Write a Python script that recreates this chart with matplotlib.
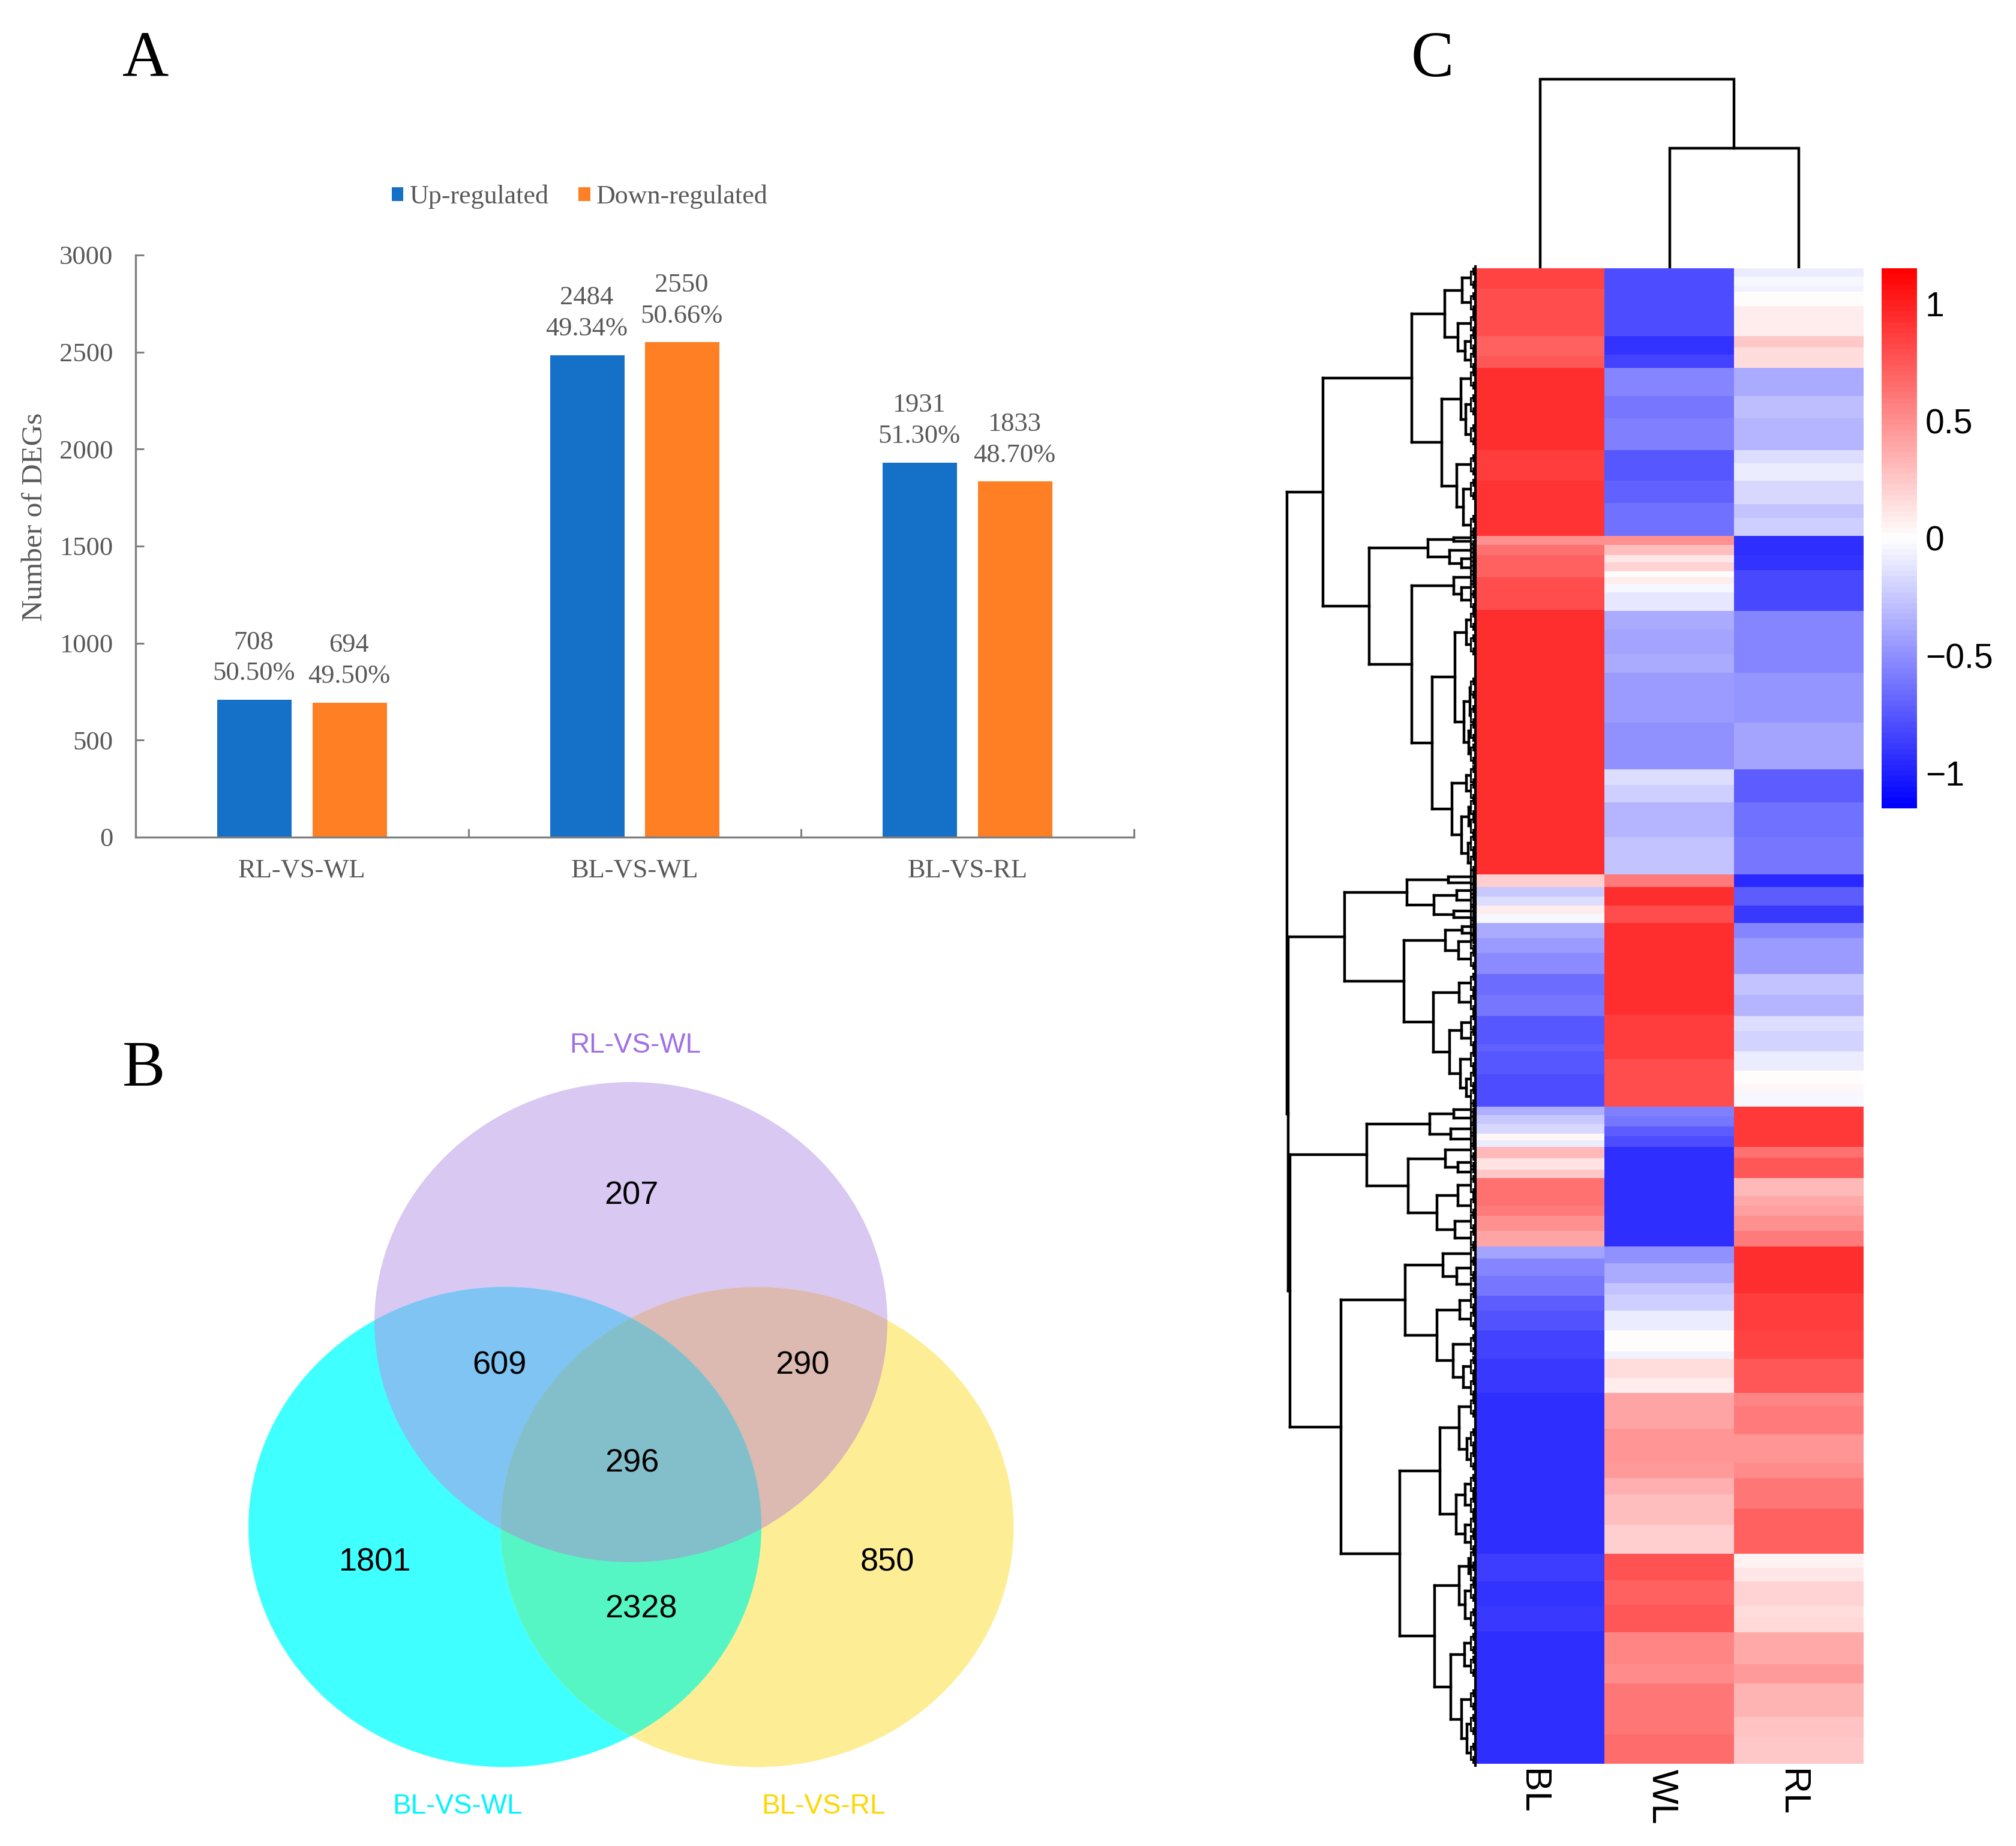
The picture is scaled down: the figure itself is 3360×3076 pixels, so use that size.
import numpy as np
import matplotlib
matplotlib.use('Agg')
import matplotlib.pyplot as plt
from matplotlib.colors import LinearSegmentedColormap
from matplotlib.patches import Ellipse, Polygon

W, H = 3360, 3076
SERIF = 'Liberation Serif'
SANS = 'Liberation Sans'
GREY = '#595959'

# panel A
groups = ['RL-VS-WL', 'BL-VS-WL', 'BL-VS-RL']
up = [708, 2484, 1931]
down = [694, 2550, 1833]
up_pct = ['50.50%', '49.34%', '51.30%']
down_pct = ['49.50%', '50.66%', '48.70%']

# panel B, numbers per region
venn_names = ['RL-VS-WL', 'BL-VS-WL', 'BL-VS-RL']
venn_counts = ['207', '609', '290', '296', '1801', '850', '2328']

# panel C, bands per column: (row where the band ends, value)
samples = ['BL', 'WL', 'RL']
bl_bands = [(34, .84), (113, .79), (146, .69), (166, .74), (303, .92), (354, .87), (446, .9), (461, .5), (478, .64),
            (515, .71), (569, .8), (1010, .92), (1031, .21), (1047, -.25), (1062, -.16), (1076, .09), (1091, -.03),
            (1116, -.37), (1141, -.45), (1176, -.51), (1211, -.66), (1246, -.6), (1293, -.74), (1305, -.7),
            (1343, -.75), (1397, -.8), (1411, -.35), (1426, -.25), (1442, -.18), (1453, .03), (1464, -.07),
            (1483, .32), (1502, .12), (1516, .23), (1562, .64), (1579, .58), (1604, .5), (1630, .41), (1650, -.41),
            (1679, -.55), (1712, -.62), (1737, -.72), (1770, -.77), (1817, -.84), (1874, -.88), (2142, -.93),
            (2188, -.86), (2229, -.91), (2271, -.88), (2492, -.93)]
wl_bands = [(113, -.79), (144, -.9), (166, -.84), (213, -.55), (250, -.6), (303, -.575), (354, -.75), (391, -.7),
            (446, -.64), (461, .5), (478, .29), (490, .1), (505, .2), (515, .02), (526, .08), (540, -.03), (571, -.11),
            (602, -.37), (643, -.41), (674, -.37), (757, -.45), (835, -.5), (861, -.16), (890, -.21), (948, -.34),
            (1010, -.27), (1031, .575), (1062, .92), (1091, .8), (1244, .92), (1318, .86), (1397, .8), (1413, -.56),
            (1430, -.62), (1446, -.72), (1464, -.8), (1630, -.93), (1658, -.5), (1691, -.37), (1710, -.27),
            (1737, -.21), (1770, -.08), (1805, .02), (1817, -.05), (1849, .14), (1874, .08), (1934, .41), (1991, .46),
            (2016, .44), (2043, .36), (2094, .29), (2142, .21), (2186, .77), (2227, .7), (2273, .74), (2326, .55),
            (2358, .52), (2443, .6), (2492, .66)]
rl_bands = [(14, -.07), (30, -.025), (39, -.05), (63, .01), (113, .08), (132, .23), (166, .15), (213, -.37), (250, -.29),
            (303, -.34), (325, -.14), (354, -.08), (393, -.18), (416, -.27), (446, -.21), (478, -.93), (503, -.9),
            (571, -.82), (674, -.55), (757, -.48), (835, -.41), (890, -.72), (948, -.64), (1010, -.62), (1031, -.95),
            (1062, -.72), (1091, -.88), (1116, -.55), (1176, -.45), (1211, -.27), (1246, -.34), (1271, -.14),
            (1305, -.19), (1337, -.08), (1359, .01), (1370, .04), (1397, -.03), (1464, .88), (1482, .64), (1516, .74),
            (1546, .3), (1562, .37), (1579, .43), (1604, .5), (1630, .575), (1708, .93), (1770, .87), (1817, .83),
            (1874, .75), (1896, .55), (1943, .575), (1991, .48), (2016, .52), (2067, .62), (2142, .7), (2165, .06),
            (2188, .1), (2229, .19), (2248, .14), (2273, .17), (2326, .39), (2358, .44), (2414, .33), (2447, .27),
            (2492, .25)]

# row dendrogram: (height, child, child), a plain number is a row
a1 = (106, (51, (22, 16, 57), (29, 92, (17, 122, 153))),
      (56, (24, 184, (16, 227, 277)), (31, 327, (20, 368, 428))))
a2b2 = (72, (34, (15, 586, 627), (19, (9, 699, 745), (11, 771, 809))),
        (39, (15, 845, 871), (23, (11, 898, 929), (12.5, 958, 991))))
a2 = (177, (79, (36, 449, 455), (43, 470, (23, 484, 499))),
      (106, (36, 515, (23, 532, 553)), a2b2))
c_tree = (218, (114, (45, 1014, 1024), (69, (31, 1037, 1053), (36, 1071, 1082))),
          (119, (50, (22, 1097, 1108), (28, 1122, 1151)),
           (70, (27.5, 1191, 1223), (43, (23, 1257, 1283), (25, 1318, (15, 1351, 1380))))))
d_tree = (181, (76, (36, 1402, 1416), (41, 1434, 1451)),
          (112, (50, 1469, (29, 1490, 1506)), (64, (29, 1528, 1562), (34, 1588, 1616))))
e1 = (117, (54, 1642, (31, 1666, 1693)), (64, (26, 1720, 1751), (37, 1793, (20, 1830, 1865))))
e2 = (126, (59, (27, 1897, (14, 1950, 1985)), (32, (17, 2026, 2061), (17, 2094, 2123))),
      (68, (27, (11, 2150, 2175), (17, 2204, 2250)), (41, (18, 2291, 2329), (23, 2385, (14, 2426, 2474)))))
row_tree = (314, (254, a1, a2), (312, c_tree, (309, d_tree, (224, e1, e2))))
col_tree = (315, 0.5, (200, 1.5, 2.5))

plt.rcParams['font.family'] = [SANS, 'DejaVu Sans']
fig = plt.figure(figsize=(W / 100, H / 100), dpi=100, facecolor='white')


def ax_at(x0, y0, x1, y1):
    return fig.add_axes([x0 / W, 1 - y1 / H, (x1 - x0) / W, (y1 - y0) / H])


def fig_text(x, y, s, **kw):
    fig.text(x / W, 1 - y / H, s, **kw)


def band_column(bands):
    ends = [0] + [b[0] for b in bands]
    return np.repeat([b[1] for b in bands], np.diff(ends))


# ---- A
ax = ax_at(226, 425, 1890, 1395)
pos = np.arange(3) + 0.5
b1 = ax.bar(pos - 0.143, up, 0.224, color='#1570c8', label='Up-regulated')
b2 = ax.bar(pos + 0.143, down, 0.224, color='#ff7f24', label='Down-regulated')
for bars, vals, pcts in [(b1, up, up_pct), (b2, down, down_pct)]:
    for r, v, p in zip(bars, vals, pcts):
        ax.annotate('%d\n%s' % (v, p), (r.get_x() + r.get_width() / 2, v), xytext=(-1, 17),
                    textcoords='offset points', ha='center', va='bottom', family=SERIF,
                    fontsize=32, color=GREY, linespacing=1.38)
ax.set_xlim(0, 3)
ax.set_ylim(0, 3000)
ax.set_yticks(range(0, 3001, 500))
ax.set_xticks([0, 1, 2, 3])
ax.set_xticklabels([])
ax.set_xticks(pos, minor=True)
ax.set_xticklabels(groups, minor=True, family=SERIF, fontsize=32, color=GREY)
ax.tick_params(axis='both', which='major', direction='in', length=10, width=2.2, color='#7f7f7f')
ax.tick_params(axis='y', pad=27, labelsize=32, labelcolor=GREY)
ax.tick_params(axis='x', which='minor', length=0, pad=26)
for t in ax.get_yticklabels():
    t.set_family(SERIF)
for s in ['top', 'right']:
    ax.spines[s].set_visible(False)
for s in ['left', 'bottom']:
    ax.spines[s].set_color('#7f7f7f')
    ax.spines[s].set_linewidth(2.4)
fig_text(58, 861, 'Number of DEGs', rotation=90, ha='center', va='center', family=SERIF, fontsize=35.5, color=GREY)
leg = fig.legend(handles=[b1, b2], loc='center', bbox_to_anchor=(966 / W, 1 - 328 / H), ncol=2, frameon=False,
                 prop={'family': SERIF, 'size': 31.7}, handlelength=0.44, handleheight=0.44, handletextpad=0.22,
                 columnspacing=1.15, labelcolor=GREY)

# ---- B, every region gets its own flat colour
ax = ax_at(350, 1680, 1750, 3076)
ax.set_xlim(350, 1750)
ax.set_ylim(3076, 1680)
ax.axis('off')
circles = [(1051.5, 2203, 855, 800), (841.5, 2544.5, 855, 800), (1262, 2544.5, 855, 800)]
base_colors = ['#d8c8f2', '#40ffff', '#fdee96']
pair_colors = {(0, 1): '#7fc4f3', (0, 2): '#dcb9b1', (1, 2): '#55f6c3'}
patches = []
for c, col in zip(circles, base_colors):
    e = Ellipse(c[:2], c[2], c[3], fc=col, ec='none')
    ax.add_patch(e)
    patches.append(e)
for (i, j), col in pair_colors.items():
    c = circles[i]
    e = Ellipse(c[:2], c[2], c[3], fc=col, ec='none')
    ax.add_patch(e)
    e.set_clip_path(patches[j])
t = np.linspace(0, 2 * np.pi, 1440)
pts = []
for i, c in enumerate(circles):
    bx, by = c[0] + c[2] / 2 * np.cos(t), c[1] + c[3] / 2 * np.sin(t)
    keep = np.ones_like(t, dtype=bool)
    for j, o in enumerate(circles):
        if j != i:
            keep &= ((bx - o[0]) / (o[2] / 2)) ** 2 + ((by - o[1]) / (o[3] / 2)) ** 2 <= 1
    pts.append(np.c_[bx[keep], by[keep]])
pts = np.vstack(pts)
mid = pts.mean(axis=0)
pts = pts[np.argsort(np.arctan2(pts[:, 1] - mid[1], pts[:, 0] - mid[0]))]
ax.add_patch(Polygon(pts, fc='#83bfcb', ec='none'))
count_xy = [(1052, 1992), (832, 2275), (1337, 2275), (1053, 2438), (625, 2603), (1479, 2603), (1068, 2681)]
for (x, y), s in zip(count_xy, venn_counts):
    ax.text(x, y, s, ha='center', va='center', fontsize=39, color='black')
name_xy = [(1059, 1742), (762, 3010), (1372, 3010)]
name_cols = ['#a070e6', '#00f5ff', '#ffd700']
for (x, y), s, col in zip(name_xy, venn_names, name_cols):
    ax.text(x, y, s, ha='center', va='center', fontsize=33, color=col)

# ---- C, heatmap
mat = np.c_[band_column(bl_bands), band_column(wl_bands), band_column(rl_bands)]
cmap = LinearSegmentedColormap.from_list('bwr2', ['#0000ff', '#ffffff', '#ff0000'], N=100)
ax = ax_at(2459, 447, 3106, 2939)
im = ax.imshow(mat, aspect='auto', cmap=cmap, vmin=-1.15, vmax=1.15, interpolation='nearest',
               extent=[0, 3, mat.shape[0], 0])
ax.axis('off')
for i, s in enumerate(samples):
    ax.text(i + 0.44, 2501, s, rotation=270, ha='center', va='top', fontsize=44, color='black')

cax = ax_at(3136, 447, 3195, 1347)
cb = fig.colorbar(im, cax=cax, ticks=[-1, -0.5, 0, 0.5, 1])
cb.outline.set_visible(False)
cb.ax.tick_params(length=0, labelsize=41, pad=10)
cb.ax.set_yticklabels(['\u22121', '\u22120.5', '0', '0.5', '1'])


def walk(node, parent, segs, tips):
    # returns position of the node and stores its lines as (h0, p0, h1, p1)
    if not isinstance(node, tuple):
        segs.append((parent, node, 8, node))
        tips.append(node)
        return node
    h, a, b = node
    pa = walk(a, h, segs, tips)
    pb = walk(b, h, segs, tips)
    segs.append((h, pa, h, pb))
    p = (pa + pb) / 2
    if parent is not None:
        segs.append((parent, p, h, p))
    return p


# row dendrogram, height is pixels away from the heatmap
ax = ax_at(2109, 447, 2459, 2939)
ax.set_xlim(350, 0)
ax.set_ylim(2492, 0)
ax.axis('off')
segs, tips = [], []
walk(row_tree, None, segs, tips)
for h0, p0, h1, p1 in segs:
    ax.plot([h0, h1], [p0, p1], color='black', lw=3.2, solid_capstyle='projecting', clip_on=False)
for r in tips:
    # the branches under this level are too fine to read, only their outline is drawn
    ax.plot([8, 8], [r - 11, r + 11], color='black', lw=2.2, clip_on=False)
    for q in (r - 11, r + 11):
        ax.plot([8, 4], [q, q], color='black', lw=2.2, clip_on=False)
        ax.plot([4, 4], [q - 5, q + 5], color='black', lw=2.2, clip_on=False)
        ax.plot([4, 0], [q - 5, q - 5], color='black', lw=2, clip_on=False)
        ax.plot([4, 0], [q + 5, q + 5], color='black', lw=2, clip_on=False)
ax.plot([0, 0], [-3, 2495], color='black', lw=3, clip_on=False)

# column dendrogram
ax = ax_at(2459, 97, 3106, 447)
ax.set_xlim(0, 3)
ax.set_ylim(0, 350)
ax.axis('off')
h, a, b = col_tree
hb, c1, c2 = b
mid_b = (c1 + c2) / 2
ax.plot([a, a, mid_b, mid_b], [0, h, h, hb], color='black', lw=3.2, solid_joinstyle='miter')
ax.plot([c1, c1, c2, c2], [0, hb, hb, 0], color='black', lw=3.2, solid_joinstyle='miter')

for s, x, y in [('A', 204, 127), ('B', 204, 1809), ('C', 2352, 127)]:
    fig_text(x, y, s, family=SERIF, fontsize=77, color='black', ha='left', va='baseline')

fig.savefig('out.png', dpi=100)
